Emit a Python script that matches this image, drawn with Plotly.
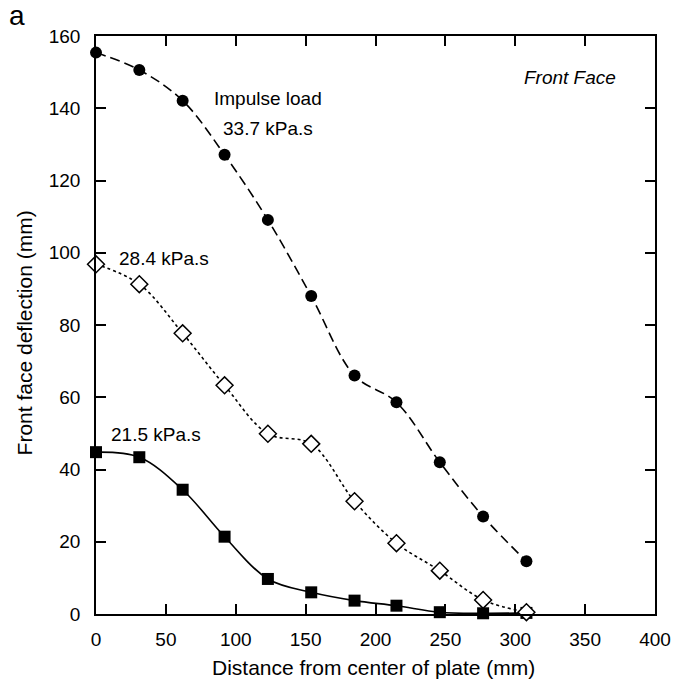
import plotly.graph_objects as go

# Radial positions of the measurement points (mm from plate centre)
distance = [0, 31, 62, 92, 123, 154, 185, 215, 246, 277, 308]

# Front face deflection (mm) for each impulse load
defl_33_7 = [155.4, 150.6, 142.1, 127.1, 109.1, 88.0, 66.0, 58.6, 42.0, 27.0, 14.6]
defl_28_4 = [96.8, 91.3, 77.7, 63.3, 49.9, 47.1, 31.2, 19.6, 12.0, 3.9, 0.5]
defl_21_5 = [44.8, 43.4, 34.4, 21.4, 9.7, 6.0, 3.7, 2.3, 0.5, 0.2, 0.3]

x_ticks = [0, 50, 100, 150, 200, 250, 300, 350, 400]
y_ticks = [0, 20, 40, 60, 80, 100, 120, 140, 160]

FONT = "Liberation Sans, Arial, Helvetica, sans-serif"

fig = go.Figure()

fig.add_trace(go.Scatter(
    x=distance, y=defl_21_5, mode="lines+markers", name="21.5 kPa.s",
    line=dict(color="black", width=1.6, shape="spline", smoothing=1.0),
    marker=dict(symbol="square", size=12, color="black"),
    cliponaxis=False,
))
fig.add_trace(go.Scatter(
    x=distance, y=defl_28_4, mode="lines+markers", name="28.4 kPa.s",
    line=dict(color="black", width=1.6, dash="3px,3px", shape="spline", smoothing=1.0),
    marker=dict(symbol="diamond", size=13, color="white",
                line=dict(color="black", width=1.5)),
    cliponaxis=False,
))
fig.add_trace(go.Scatter(
    x=distance, y=defl_33_7, mode="lines+markers", name="33.7 kPa.s",
    line=dict(color="black", width=1.6, dash="10px,5px", shape="spline", smoothing=1.0),
    marker=dict(symbol="circle", size=12, color="black"),
    cliponaxis=False,
))

axis_common = dict(
    showline=True, linecolor="black", linewidth=1.5, mirror="ticks",
    ticks="inside", ticklen=10, tickwidth=1.5, tickcolor="black",
    showgrid=False, zeroline=False,
    tickfont=dict(family=FONT, size=19, color="black"),
)

fig.update_xaxes(range=[0, 400], tickvals=x_ticks, ticklabelstandoff=7, **axis_common)
fig.update_yaxes(range=[0, 160], tickvals=y_ticks, ticklabelstandoff=10, **axis_common)

title_font = dict(family=FONT, size=21, color="black")
fig.add_annotation(xref="paper", yref="paper", x=0.496, y=-0.093,
                   text="Distance from center of plate (mm)", showarrow=False,
                   xanchor="center", yanchor="middle", font=title_font)
fig.add_annotation(xref="paper", yref="paper", x=-0.1274, y=0.4868,
                   text="Front face deflection (mm)", showarrow=False, textangle=-90,
                   xanchor="center", yanchor="middle", font=title_font)

annot_font = dict(family=FONT, size=19, color="black")
fig.add_annotation(x=123.3, y=142.6, text="Impulse load", showarrow=False, font=annot_font)
fig.add_annotation(x=123.3, y=134.5, text="33.7 kPa.s", showarrow=False, font=annot_font)
fig.add_annotation(x=49, y=98.4, text="28.4 kPa.s", showarrow=False, font=annot_font)
fig.add_annotation(x=43.2, y=49.6, text="21.5 kPa.s", showarrow=False, font=annot_font)
fig.add_annotation(x=339.3, y=148.5, text="<i>Front Face</i>", showarrow=False, font=annot_font)
fig.add_annotation(xref="paper", yref="paper", x=-0.141, y=1.035, text="a",
                   showarrow=False, xanchor="center", yanchor="middle",
                   font=dict(family=FONT, size=28, color="black"))

fig.update_layout(
    width=688, height=684,
    margin=dict(l=96, r=33, t=36, b=70),
    paper_bgcolor="white", plot_bgcolor="white",
    showlegend=False,
    font=dict(family=FONT, color="black"),
)

fig.write_html("out.html")
